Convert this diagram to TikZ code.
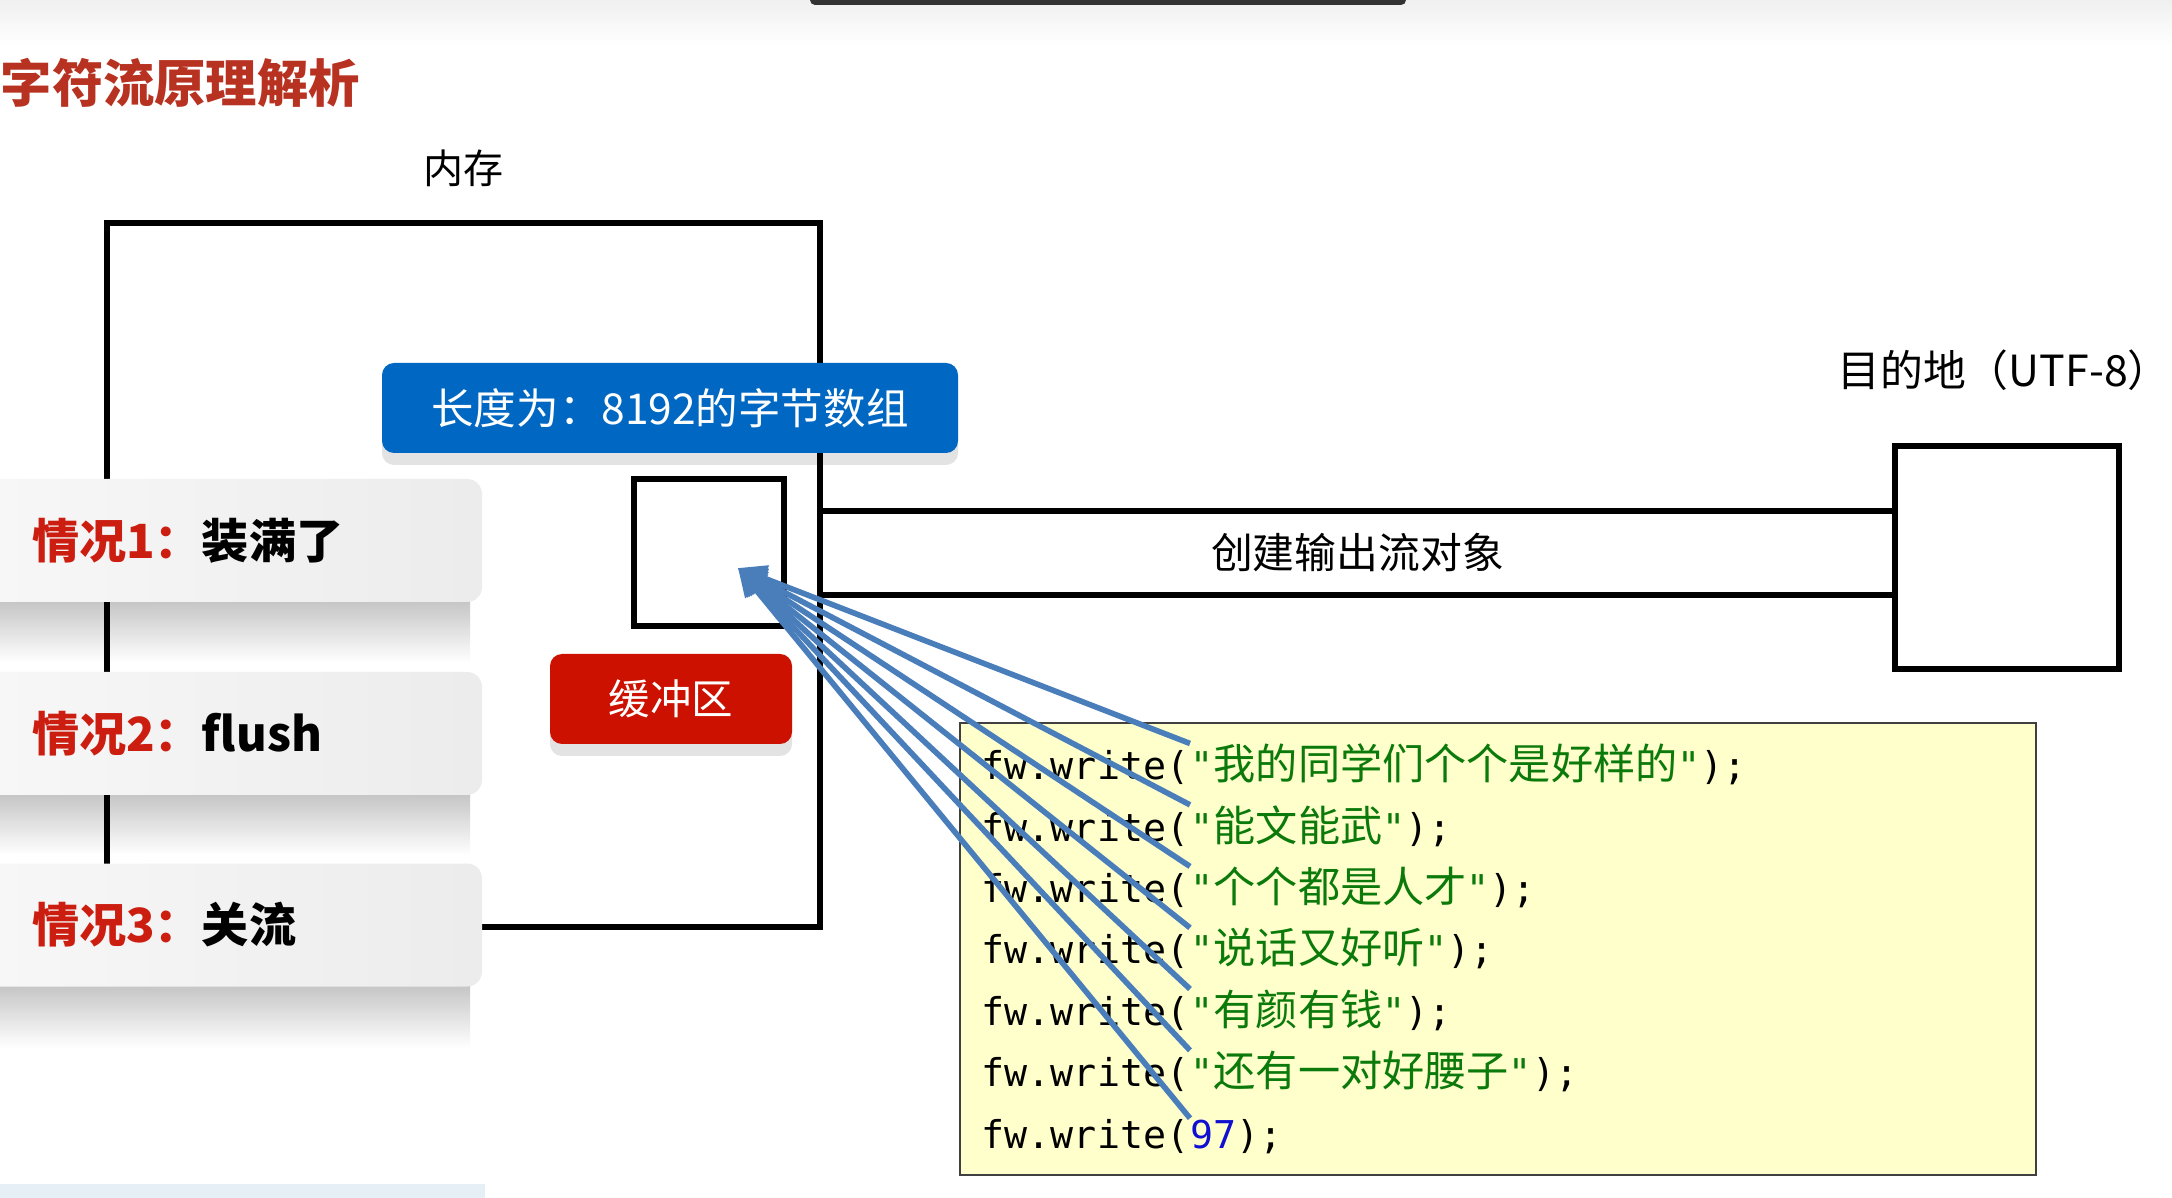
\documentclass[tikz,border=0pt]{standalone}
\usepackage{fontspec}
\setmainfont{Noto Sans CJK SC}
\newfontfamily\codemono{DejaVu Sans Mono}[Ligatures=TeXOff]
\newfontfamily\codecjk{Noto Sans CJK SC}
\usepackage{xcolor}
\definecolor{TitleRed}{HTML}{B83221}
\definecolor{CaseRed}{HTML}{CC1E10}
\definecolor{ArrayBlue}{HTML}{0068C2}
\definecolor{BufRed}{HTML}{CC1100}
\definecolor{FlowBlue}{HTML}{4A7EBB}
\definecolor{CodeGreen}{HTML}{0B7A0B}
\definecolor{CodeBlue}{HTML}{1010D0}
\definecolor{CodeBg}{HTML}{FFFFCC}
\definecolor{InkBlue}{HTML}{E6EFF6}
\usetikzlibrary{arrows.meta, positioning}

\newcommand{\sz}[1]{\fontsize{#1pt}{#1pt}\selectfont}
\newcommand{\qstr}[1]{{\color{CodeGreen}"{\codecjk\sz{12}#1}"}}

\begin{document}
\begin{tikzpicture}[
  x=0.1mm, y=-0.1mm,
  lbl/.style={inner sep=0pt, font=\sz{11.4}},
  framebox/.style={draw, line width=1.6pt, inner sep=0pt},
  tagbox/.style={rounded corners=1.2mm, inner sep=0pt, text=white,
    minimum height=9mm},
  tagshadow/.style={rounded corners=1.2mm, inner sep=0pt, fill=gray!22,
    minimum height=9mm},
  casebox/.style={rounded corners=1.5mm, left color=gray!6, right color=gray!15,
    minimum width=50.2mm, minimum height=12.3mm, inner xsep=5.2mm,
    text width=39.8mm, align=left, font=\bfseries\sz{13.4}},
  caseshadow/.style={top color=gray!50, bottom color=white},
  codeline/.style={inner sep=0pt, font=\codemono\sz{10.9}},
  flow/.style={draw=FlowBlue, line width=1.6pt,
    -{Triangle[length=2.8mm, width=2.6mm]}},
]
\useasboundingbox (0,0) rectangle (2172,1198);
\fill[white] (0,0) rectangle (2172,1198);
\shade[top color=gray!12, bottom color=white] (0,0) rectangle (2172,45);
\fill[black!80, rounded corners=0.5mm] (810,-5) rectangle (1406,5);
\fill[InkBlue] (0,1184) rectangle (485,1198);

\node[inner sep=0pt, anchor=west, text=TitleRed, font=\bfseries\sz{14.6}]
  (title) at (0,83) {字符流原理解析};

% shadows first
\node[tagshadow, minimum width=57.6mm] (arraysh) at (670,420) {};
\node[tagshadow, minimum width=24.2mm] (bufsh) at (671,711) {};
\shade[caseshadow] (0,595) rectangle (470,662);
\shade[caseshadow] (0,788) rectangle (470,855);
\shade[caseshadow] (0,979) rectangle (470,1048);

\node[framebox, minimum width=71.3mm, minimum height=70.4mm] (mem) at (463.5,575) {};
\node[lbl, above=3.3mm of mem] (memlbl) {内存};

\node[inner sep=0pt, minimum width=107.5mm, minimum height=8.2mm,
  font=\sz{11.9}] (stream) at (1357.5,553) {创建输出流对象};
\draw[line width=1.6pt] (stream.north west) -- (stream.north east)
  (stream.south west) -- (stream.south east);

\node[framebox, minimum width=22.4mm, minimum height=22.3mm] (dest) at (2007,557.5) {};
\node[lbl, font=\sz{12.2}, above=5.2mm of dest, xshift=-0.3mm] (destlbl) {目的地（UTF-8）};

\node[tagbox, fill=ArrayBlue, minimum width=57.6mm, font=\sz{12.1}]
  (array) at (670,408) {长度为：8192的字节数组};
\node[framebox, minimum width=15mm, minimum height=14.7mm] (buf) at (709,552.5) {};
\node[tagbox, fill=BufRed, minimum width=24.2mm, font=\sz{11.8}]
  (buflbl) at (671,699) {缓冲区};

\node[casebox] (case1) at (231,540.5) {{\color{CaseRed}情况1：}装满了};
\node[casebox] (case2) at (231,733.5) {{\color{CaseRed}情况2：}flush};
\node[casebox] (case3) at (231,925) {{\color{CaseRed}情况3：}关流};

\node[draw=black!75, line width=0.6pt, fill=CodeBg, minimum width=107.6mm,
  minimum height=45.2mm] (code) at (1498,949) {};

\foreach \txt [count=\i] in {我的同学们个个是好样的, 能文能武, 个个都是人才,
    说话又好听, 有颜有钱, 还有一对好腰子} {
  \node[codeline, anchor=base west] (call\i) at (981,{780+61.3*(\i-1)}) {fw.write(};
  \node[codeline, anchor=base west] (arg\i) at (call\i.base east) {\qstr{\txt});};
}
\node[codeline, anchor=base west] (call7) at (981,1148) {fw.write(};
\node[codeline, anchor=base west] (arg7) at (call7.base east) {{\color{CodeBlue}97});};

\coordinate (tip) at (738,568);
\foreach \i in {1,...,7}
  \draw[flow] (arg\i.north west) -- (tip);

\end{tikzpicture}
\end{document}
